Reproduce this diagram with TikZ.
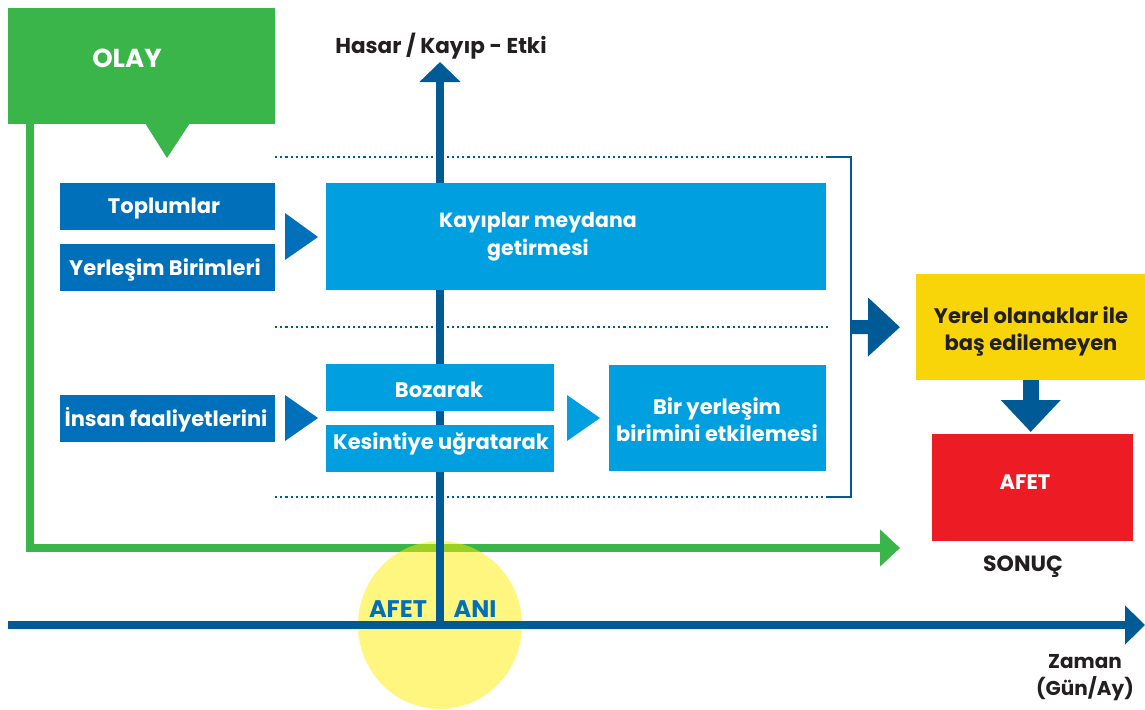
\documentclass[tikz,border=0pt]{standalone}
\usepackage{fontspec}
\setmainfont{Poppins}
\usetikzlibrary{arrows.meta,calc}
\definecolor{cgreen}{HTML}{3AB54A}
\definecolor{cdark}{HTML}{005A96}
\definecolor{cmid}{HTML}{0070BA}
\definecolor{clight}{HTML}{00A0E0}
\definecolor{cyel}{HTML}{F7D508}
\definecolor{cred}{HTML}{ED1C24}
\definecolor{ctext}{HTML}{231F20}
\definecolor{ccircle}{RGB}{255,238,0}
\tikzset{
  box/.style={rectangle, inner sep=0pt, anchor=north west, text=white,
    font=\bfseries\fontsize{21}{27}\selectfont, align=center},
  lbl/.style={inner sep=0pt, font=\bfseries\fontsize{21}{27}\selectfont, align=center},
  dotline/.style={cdark, line width=2.2pt, dash pattern=on 2.2pt off 3pt},
  axis/.style={cdark, line width=7.5pt},
  gline/.style={cgreen, line width=8pt, -{Triangle[length=20pt,width=36pt]}},
}
\begin{document}
\begin{tikzpicture}[x=1pt,y=-1pt]
\useasboundingbox (0,0) rectangle (1145,709);
\fill[white] (0,0) rectangle (1145,709);

% OLAY box and pointer
\node[box, fill=cgreen, minimum width=267pt, minimum height=116pt] (olay) at (8,8) {};
\node[lbl, text=white, font=\bfseries\fontsize{26}{30}\selectfont] (olaytxt) at (127,58) {OLAY};
\fill[cgreen] (145,123) -- (190,123) -- (167,158) -- cycle;

% green event line
\coordinate (gend) at (900,548);
\draw[gline] ($(olay.south west)+(22,0)$) |- (gend);

% yellow circle
\fill[ccircle, fill opacity=0.5] (440,625) ellipse [x radius=82, y radius=84];

% dotted lines and bracket
\draw[dotline] (275,157) -- (828,157);
\draw[dotline] (275,327) -- (828,327);
\draw[dotline] (275,497) -- (828,497);
\draw[cdark, line width=2.6pt] (828,157) -- (851,157) -- (851,497) -- (828,497);
\coordinate (bm) at (851,327);

% axes
\coordinate (vb) at (440,628);
\coordinate (vt) at (440,62);
\coordinate (hl) at (8,625);
\coordinate (hr) at (1145,625);
\draw[axis, -{Triangle[length=20pt,width=40pt]}] (vb) -- (vt);
\draw[axis, -{Triangle[length=20pt,width=38pt]}] (hl) -- (hr);

% left boxes
\node[box, fill=cmid, minimum width=215pt, minimum height=47pt] (top) at (60,183) {};
\node[lbl, text=white] at (164,209) {Toplumlar};
\node[box, fill=cmid, minimum width=215pt, minimum height=47pt] (yer) at (60,244) {};
\node[lbl, text=white] at (165,270) {Yerleşim Birimleri};
\node[box, fill=cmid, minimum width=215pt, minimum height=47pt] (insan) at (60,395) {};
\node[lbl, text=white] at (166,420) {İnsan faaliyetlerini};

\fill[cmid] (285,213) -- (285,260) -- (318,237) -- cycle;
\fill[cmid] (285,395) -- (285,441) -- (318,418) -- cycle;

% middle boxes
\node[box, fill=clight, minimum width=500pt, minimum height=107pt] (kay) at (326,183) {};
\node[lbl, text=white, font=\bfseries\fontsize{20.5}{28}\selectfont] at (538,237) {Kayıplar meydana\\getirmesi};
\node[box, fill=clight, minimum width=228pt, minimum height=47pt] (boz) at (326,364) {};
\node[lbl, text=white] at (439,390) {Bozarak};
\node[box, fill=clight, minimum width=228pt, minimum height=47pt] (kes) at (326,425) {};
\node[lbl, text=white] at (441,444) {Kesintiye uğratarak};
\fill[clight] (567,395) -- (567,441) -- (600,418) -- cycle;
\node[box, fill=clight, minimum width=217pt, minimum height=106pt] (bir) at (609,365) {};
\node[lbl, text=white] at (717,420) {Bir yerleşim\\birimini etkilemesi};

% right side
\node[box, fill=cyel, minimum width=229pt, minimum height=106pt] (yel) at (916,274) {};
\node[lbl, text=ctext] at (1031,331) {Yerel olanaklar ile\\baş edilemeyen};
\node[box, fill=cred, minimum width=201pt, minimum height=107pt] (red) at (932,434) {};
\node[lbl, text=white] at (1025,482) {AFET};
\draw[cdark, line width=14pt, shorten >=16pt, -{Triangle[length=32pt,width=57pt]}] (bm) -- (yel.west);
\draw[cdark, line width=16pt, shorten >=2pt, -{Triangle[length=32pt,width=58pt]}] (yel.south) -- (yel.south |- red.north);

% texts
\node[lbl, text=ctext, font=\bfseries\fontsize{21.5}{27}\selectfont] (hasar) at (441,46) {Hasar / Kayıp - Etki};
\node[lbl, text=ctext, font=\bfseries\fontsize{22}{27}\selectfont] (sonuc) at (1023,567) {SONUÇ};
\node[lbl, text=ctext, font=\bfseries\fontsize{20}{27}\selectfont] (zaman) at (1085,678) {Zaman\\(Gün/Ay)};
\node[lbl, text=cmid, font=\bfseries\fontsize{24}{28}\selectfont] (afet1) at (398,609) {AFET};
\node[lbl, text=cmid, font=\bfseries\fontsize{24}{28}\selectfont] (ani) at (475,609) {ANI};
\end{tikzpicture}
\end{document}
